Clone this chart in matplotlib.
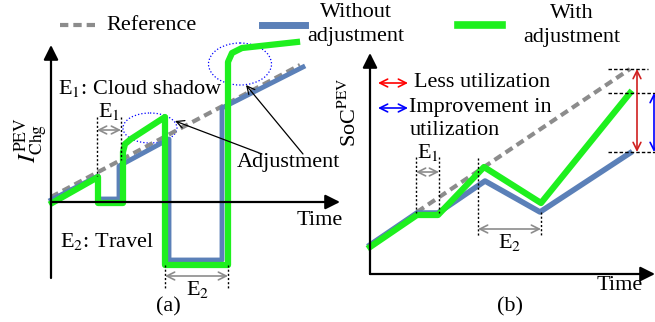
import matplotlib
matplotlib.use("Agg")
from matplotlib import pyplot as plt
from matplotlib.patches import Ellipse

plt.rcParams["font.family"] = "Liberation Serif"
plt.rcParams["mathtext.fontset"] = "stix"

# colours
blue = "#5b80b8"
green = "#1ef01e"
gray = "#8c8c8c"

# ---- panel (a) : charging current (pixel units)
ref_a_t = [51, 300]
ref_a_v = [197, 65]
without_a_t = [51, 98, 98, 119, 119, 169, 169, 222, 222, 303]
without_a_v = [200, 176, 199, 199, 166, 139, 260, 260, 108, 67]
with_a_t = [52, 98, 98, 123, 123, 125, 131, 165, 165, 228, 228, 232, 242, 297]
with_a_v = [203, 177, 203, 203, 152, 144, 139, 117, 265, 265, 62, 53, 48, 42]

# ---- panel (b) : state of charge
ref_b_t = [417, 630]
ref_b_v = [212, 69]
without_b_t = [370, 417, 438, 485, 540, 630]
without_b_v = [245, 213, 213, 181, 212, 153]
with_b_t = [370, 417, 438, 484, 541, 630]
with_b_v = [247, 215, 215, 167, 203, 93]

fig = plt.figure(figsize=(6.55, 3.22), dpi=100)
ax = fig.add_axes([0, 0, 1, 1])
ax.set_xlim(0, 655)
ax.set_ylim(322, 0)
ax.axis("off")

fs = 16

def axis_arrow(x0, y0, x1, y1):
    ax.annotate("", xy=(x1, y1), xytext=(x0, y0),
                arrowprops=dict(arrowstyle="-|>", color="black", lw=1.6,
                                mutation_scale=22, shrinkA=0, shrinkB=0))

def span_arrow(x0, y0, x1, y1, c):
    ax.annotate("", xy=(x1, y1), xytext=(x0, y0),
                arrowprops=dict(arrowstyle="<->", color=c, lw=1.2,
                                mutation_scale=14, shrinkA=0, shrinkB=0))

def dotted(xs, ys):
    ax.plot(xs, ys, color="black", lw=1, ls=(0, (1.5, 1.5)))

# ---------------- legend
ax.plot([60, 98], [25, 25], color=gray, lw=3, ls=(0, (2, 1.2)))
ax.text(106, 25, "Reference", fontsize=fs, va="center", ha="left")
ax.plot([262, 305], [25, 25], color=blue, lw=5)
ax.text(356, 12, "Without", fontsize=fs, va="center", ha="center")
ax.text(356, 36, "adjustment", fontsize=fs, va="center", ha="center")
ax.plot([458, 502], [25, 25], color=green, lw=5.5)
ax.text(572, 13, "With", fontsize=fs, va="center", ha="center")
ax.text(572, 37, "adjustment", fontsize=fs, va="center", ha="center")

# ---------------- panel (a)
axis_arrow(51, 278, 51, 45)
axis_arrow(51, 202, 340, 202)
ax.text(320, 220, "Time", fontsize=fs, va="center", ha="center")
ax.text(31, 140, r"$I^{\rm PEV}_{\rm Chg}$", fontsize=fs + 2, rotation=90,
        va="center", ha="center")

ax.plot(ref_a_t, ref_a_v, color=gray, lw=3, ls=(0, (2, 1.2)))
ax.plot(without_a_t, without_a_v, color=blue, lw=3.5)
ax.plot(with_a_t, with_a_v, color=green, lw=4.5)

ax.add_patch(Ellipse((150, 128), 54, 30, fill=False, ec="blue", lw=0.9, ls=":"))
ax.add_patch(Ellipse((240, 64), 63, 42, fill=False, ec="blue", lw=0.9, ls=":"))

ax.text(58, 88, r"E$_1$: Cloud shadow", fontsize=fs, va="center", ha="left")
ax.text(60, 241, r"E$_2$: Travel", fontsize=fs, va="center", ha="left")
ax.text(237, 162, "Adjustment", fontsize=fs, va="center", ha="left")

ax.annotate("", xy=(175, 121), xytext=(262, 154),
            arrowprops=dict(arrowstyle="->", color="black", lw=0.9,
                            mutation_scale=14, shrinkA=0, shrinkB=0))
ax.annotate("", xy=(246, 85), xytext=(303, 154),
            arrowprops=dict(arrowstyle="->", color="black", lw=0.9,
                            mutation_scale=14, shrinkA=0, shrinkB=0))

dotted([97, 97], [117, 176])
dotted([121, 121], [117, 160])
span_arrow(97, 130, 121, 130, gray)
ax.text(109, 111, r"E$_1$", fontsize=fs, va="center", ha="center")

dotted([165, 165], [265, 288])
dotted([228, 228], [265, 288])
span_arrow(165, 276, 228, 276, gray)
ax.text(198, 290, r"E$_2$", fontsize=fs, va="center", ha="center")
ax.text(168, 307, "(a)", fontsize=fs, va="center", ha="center")

# ---------------- panel (b)
axis_arrow(370, 274, 370, 53)
axis_arrow(370, 274, 655, 274)
ax.text(620, 285, "Time", fontsize=fs, va="center", ha="center")
ax.text(350, 112, r"SoC$^{\rm PEV}$", fontsize=fs, rotation=90,
        va="center", ha="center")

ax.plot(ref_b_t, ref_b_v, color=gray, lw=3, ls=(0, (2, 1.2)))
ax.plot(without_b_t, without_b_v, color=blue, lw=4)
ax.plot(with_b_t, with_b_v, color=green, lw=4.5)

span_arrow(378, 83, 408, 83, "red")
ax.text(414, 82, "Less utilization", fontsize=fs, va="center", ha="left")
span_arrow(378, 108, 408, 108, "blue")
ax.text(409, 107, "Improvement in", fontsize=fs, va="center", ha="left")
ax.text(410, 130, "utilization", fontsize=fs, va="center", ha="left")

dotted([416, 416], [157, 213])
dotted([439, 439], [157, 213])
span_arrow(416, 172, 439, 172, gray)
ax.text(428, 152, r"E$_1$", fontsize=fs, va="center", ha="center")

dotted([478, 478], [158, 237])
dotted([541, 541], [212, 237])
span_arrow(478, 229, 541, 229, gray)
ax.text(510, 242, r"E$_2$", fontsize=fs, va="center", ha="center")
ax.text(510, 307, "(b)", fontsize=fs, va="center", ha="center")

ax.plot([608, 648], [69, 69], color="black", lw=1, ls=(0, (2.5, 1.5)))
ax.plot([608, 655], [93, 93], color="black", lw=1, ls=(0, (2.5, 1.5)))
ax.plot([608, 655], [152, 152], color="black", lw=1, ls=(0, (2.5, 1.5)))
span_arrow(637, 69, 637, 152, "#d02020")
span_arrow(654, 93, 654, 152, "blue")

fig.savefig("out.png", dpi=100)
